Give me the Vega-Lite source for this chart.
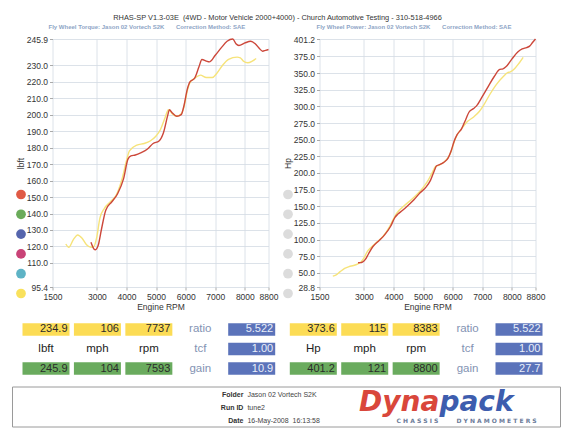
{
  "$schema": "https://vega.github.io/schema/vega-lite/v6.json",
  "background": "white",
  "padding": {"left": 11.5, "top": 13, "right": 0, "bottom": 0},
  "title": {"text": "RHAS-SP V1.3-03E\u00a0 (4WD - Motor Vehicle 2000+4000) - Church Automotive Testing - 310-518-4966", "fontSize": 7.4, "fontWeight": "normal", "color": "#333333", "anchor": "middle", "dx": -9, "offset": 3},
  "config": {
    "font": "Liberation Sans",
    "view": {"stroke": null},
    "axis": {"labelFontSize": 8.5, "labelColor": "#333333", "titleFontSize": 8.5, "titleFontWeight": "normal", "titleColor": "#333333", "domain": false, "tickColor": "#aaaaaa", "tickSize": 3, "labelPadding": 2, "gridColor": "#d3dae3", "gridWidth": 0.8, "labelOverlap": false, "labelSeparation": 0},
    "axisX": {"titlePadding": 2, "labelFlush": false},
    "axisY": {"titlePadding": 1}
  },
  "datasets": {
    "runs": [
      {"run": "tune1", "rpm": 1950, "lbft": 121.5, "hp": 45.1},
      {"run": "tune1", "rpm": 2050, "lbft": 119.5, "hp": 46.6},
      {"run": "tune1", "rpm": 2200, "lbft": 124.0, "hp": 51.9},
      {"run": "tune1", "rpm": 2350, "lbft": 127.0, "hp": 56.8},
      {"run": "tune1", "rpm": 2500, "lbft": 125.0, "hp": 59.5},
      {"run": "tune1", "rpm": 2650, "lbft": 121.0, "hp": 61.1},
      {"run": "tune1", "rpm": 2800, "lbft": 119.5, "hp": 63.7},
      {"run": "tune1", "rpm": 2900, "lbft": 120.0, "hp": 66.3},
      {"run": "tune1", "rpm": 3000, "lbft": 126.0, "hp": 72.0},
      {"run": "tune1", "rpm": 3100, "lbft": 137.0, "hp": 80.9},
      {"run": "tune1", "rpm": 3250, "lbft": 143.0, "hp": 88.5},
      {"run": "tune1", "rpm": 3450, "lbft": 147.0, "hp": 96.6},
      {"run": "tune1", "rpm": 3650, "lbft": 151.0, "hp": 104.9},
      {"run": "tune1", "rpm": 3850, "lbft": 161.0, "hp": 118.0},
      {"run": "tune1", "rpm": 4000, "lbft": 172.0, "hp": 131.0},
      {"run": "tune1", "rpm": 4100, "lbft": 178.0, "hp": 139.0},
      {"run": "tune1", "rpm": 4350, "lbft": 181.5, "hp": 150.3},
      {"run": "tune1", "rpm": 4600, "lbft": 182.5, "hp": 159.8},
      {"run": "tune1", "rpm": 4800, "lbft": 184.0, "hp": 168.2},
      {"run": "tune1", "rpm": 5000, "lbft": 187.0, "hp": 178.0},
      {"run": "tune1", "rpm": 5150, "lbft": 191.0, "hp": 187.3},
      {"run": "tune1", "rpm": 5300, "lbft": 198.0, "hp": 199.8},
      {"run": "tune1", "rpm": 5420, "lbft": 203.0, "hp": 209.5},
      {"run": "tune1", "rpm": 5550, "lbft": 200.5, "hp": 211.9},
      {"run": "tune1", "rpm": 5700, "lbft": 199.0, "hp": 216.0},
      {"run": "tune1", "rpm": 5850, "lbft": 200.5, "hp": 223.3},
      {"run": "tune1", "rpm": 5950, "lbft": 205.0, "hp": 232.2},
      {"run": "tune1", "rpm": 6050, "lbft": 214.0, "hp": 246.5},
      {"run": "tune1", "rpm": 6150, "lbft": 219.5, "hp": 257.0},
      {"run": "tune1", "rpm": 6300, "lbft": 222.0, "hp": 266.3},
      {"run": "tune1", "rpm": 6500, "lbft": 224.0, "hp": 277.2},
      {"run": "tune1", "rpm": 6700, "lbft": 222.5, "hp": 283.8},
      {"run": "tune1", "rpm": 6900, "lbft": 222.5, "hp": 292.3},
      {"run": "tune1", "rpm": 7050, "lbft": 225.0, "hp": 302.0},
      {"run": "tune1", "rpm": 7250, "lbft": 230.0, "hp": 317.5},
      {"run": "tune1", "rpm": 7450, "lbft": 233.5, "hp": 331.2},
      {"run": "tune1", "rpm": 7737, "lbft": 234.9, "hp": 346.0},
      {"run": "tune1", "rpm": 7850, "lbft": 234.5, "hp": 350.5},
      {"run": "tune1", "rpm": 7950, "lbft": 232.5, "hp": 351.9},
      {"run": "tune1", "rpm": 8100, "lbft": 231.5, "hp": 357.0},
      {"run": "tune1", "rpm": 8250, "lbft": 232.5, "hp": 365.2},
      {"run": "tune1", "rpm": 8383, "lbft": 234.1, "hp": 373.6},
      {"run": "tune2", "rpm": 2800, "lbft": 122.5, "hp": 65.3},
      {"run": "tune2", "rpm": 2900, "lbft": 118.5, "hp": 65.4},
      {"run": "tune2", "rpm": 2950, "lbft": 118.0, "hp": 66.3},
      {"run": "tune2", "rpm": 3050, "lbft": 121.0, "hp": 70.3},
      {"run": "tune2", "rpm": 3150, "lbft": 130.0, "hp": 78.0},
      {"run": "tune2", "rpm": 3300, "lbft": 142.0, "hp": 89.2},
      {"run": "tune2", "rpm": 3500, "lbft": 147.0, "hp": 98.0},
      {"run": "tune2", "rpm": 3700, "lbft": 152.0, "hp": 107.1},
      {"run": "tune2", "rpm": 3900, "lbft": 161.0, "hp": 119.6},
      {"run": "tune2", "rpm": 4050, "lbft": 173.0, "hp": 133.4},
      {"run": "tune2", "rpm": 4150, "lbft": 175.0, "hp": 138.3},
      {"run": "tune2", "rpm": 4300, "lbft": 175.5, "hp": 143.7},
      {"run": "tune2", "rpm": 4500, "lbft": 177.0, "hp": 151.7},
      {"run": "tune2", "rpm": 4700, "lbft": 179.0, "hp": 160.2},
      {"run": "tune2", "rpm": 4900, "lbft": 182.5, "hp": 170.3},
      {"run": "tune2", "rpm": 5100, "lbft": 184.0, "hp": 178.7},
      {"run": "tune2", "rpm": 5250, "lbft": 189.0, "hp": 188.9},
      {"run": "tune2", "rpm": 5400, "lbft": 200.0, "hp": 205.6},
      {"run": "tune2", "rpm": 5450, "lbft": 203.0, "hp": 210.6},
      {"run": "tune2", "rpm": 5550, "lbft": 201.0, "hp": 212.4},
      {"run": "tune2", "rpm": 5700, "lbft": 199.0, "hp": 216.0},
      {"run": "tune2", "rpm": 5850, "lbft": 200.0, "hp": 222.8},
      {"run": "tune2", "rpm": 5950, "lbft": 206.0, "hp": 233.4},
      {"run": "tune2", "rpm": 6050, "lbft": 215.0, "hp": 247.7},
      {"run": "tune2", "rpm": 6150, "lbft": 220.0, "hp": 257.6},
      {"run": "tune2", "rpm": 6300, "lbft": 222.0, "hp": 266.3},
      {"run": "tune2", "rpm": 6450, "lbft": 229.0, "hp": 281.2},
      {"run": "tune2", "rpm": 6550, "lbft": 233.5, "hp": 291.2},
      {"run": "tune2", "rpm": 6700, "lbft": 232.5, "hp": 296.6},
      {"run": "tune2", "rpm": 6800, "lbft": 232.0, "hp": 300.4},
      {"run": "tune2", "rpm": 7000, "lbft": 236.0, "hp": 314.5},
      {"run": "tune2", "rpm": 7200, "lbft": 240.5, "hp": 329.7},
      {"run": "tune2", "rpm": 7400, "lbft": 244.5, "hp": 344.5},
      {"run": "tune2", "rpm": 7593, "lbft": 245.9, "hp": 355.5},
      {"run": "tune2", "rpm": 7700, "lbft": 243.0, "hp": 356.3},
      {"run": "tune2", "rpm": 7800, "lbft": 242.0, "hp": 359.4},
      {"run": "tune2", "rpm": 8000, "lbft": 243.5, "hp": 370.9},
      {"run": "tune2", "rpm": 8200, "lbft": 244.5, "hp": 381.7},
      {"run": "tune2", "rpm": 8350, "lbft": 243.0, "hp": 386.3},
      {"run": "tune2", "rpm": 8500, "lbft": 240.0, "hp": 388.4},
      {"run": "tune2", "rpm": 8600, "lbft": 238.5, "hp": 390.5},
      {"run": "tune2", "rpm": 8700, "lbft": 239.0, "hp": 395.9},
      {"run": "tune2", "rpm": 8800, "lbft": 239.5, "hp": 401.2}
    ],
    "slots": [{"slot": "1"}, {"slot": "2"}, {"slot": "3"}, {"slot": "4"}, {"slot": "5"}, {"slot": "6"}],
    "table": [
      {"half": "T", "row": "peak1", "col": "main", "text": "234.9", "box": "yellow"},
      {"half": "T", "row": "peak1", "col": "mph", "text": "106", "box": "yellow"},
      {"half": "T", "row": "peak1", "col": "rpm", "text": "7737", "box": "yellow"},
      {"half": "T", "row": "peak1", "col": "key", "text": "ratio", "box": "none"},
      {"half": "T", "row": "peak1", "col": "factor", "text": "5.522", "box": "blue"},
      {"half": "T", "row": "units", "col": "main", "text": "lbft", "box": "none"},
      {"half": "T", "row": "units", "col": "mph", "text": "mph", "box": "none"},
      {"half": "T", "row": "units", "col": "rpm", "text": "rpm", "box": "none"},
      {"half": "T", "row": "units", "col": "key", "text": "tcf", "box": "none"},
      {"half": "T", "row": "units", "col": "factor", "text": "1.00", "box": "blue"},
      {"half": "T", "row": "peak2", "col": "main", "text": "245.9", "box": "green"},
      {"half": "T", "row": "peak2", "col": "mph", "text": "104", "box": "green"},
      {"half": "T", "row": "peak2", "col": "rpm", "text": "7593", "box": "green"},
      {"half": "T", "row": "peak2", "col": "key", "text": "gain", "box": "none"},
      {"half": "T", "row": "peak2", "col": "factor", "text": "10.9", "box": "blue"},
      {"half": "P", "row": "peak1", "col": "main", "text": "373.6", "box": "yellow"},
      {"half": "P", "row": "peak1", "col": "mph", "text": "115", "box": "yellow"},
      {"half": "P", "row": "peak1", "col": "rpm", "text": "8383", "box": "yellow"},
      {"half": "P", "row": "peak1", "col": "key", "text": "ratio", "box": "none"},
      {"half": "P", "row": "peak1", "col": "factor", "text": "5.522", "box": "blue"},
      {"half": "P", "row": "units", "col": "main", "text": "Hp", "box": "none"},
      {"half": "P", "row": "units", "col": "mph", "text": "mph", "box": "none"},
      {"half": "P", "row": "units", "col": "rpm", "text": "rpm", "box": "none"},
      {"half": "P", "row": "units", "col": "key", "text": "tcf", "box": "none"},
      {"half": "P", "row": "units", "col": "factor", "text": "1.00", "box": "blue"},
      {"half": "P", "row": "peak2", "col": "main", "text": "401.2", "box": "green"},
      {"half": "P", "row": "peak2", "col": "mph", "text": "121", "box": "green"},
      {"half": "P", "row": "peak2", "col": "rpm", "text": "8800", "box": "green"},
      {"half": "P", "row": "peak2", "col": "key", "text": "gain", "box": "none"},
      {"half": "P", "row": "peak2", "col": "factor", "text": "27.7", "box": "blue"}
    ],
    "footer": [
      {"zone": "info", "row": "Folder", "role": "label", "text": "Folder"},
      {"zone": "info", "row": "Folder", "role": "value", "text": "Jason 02 Vortech S2K"},
      {"zone": "info", "row": "Run ID", "role": "label", "text": "Run ID"},
      {"zone": "info", "row": "Run ID", "role": "value", "text": "tune2"},
      {"zone": "info", "row": "Date", "role": "label", "text": "Date"},
      {"zone": "info", "row": "Date", "role": "value", "text": "16-May-2008\u00a0 16:13:58"},
      {"zone": "logo", "row": "Run ID", "role": "brand1", "text": "Dyna"},
      {"zone": "logo", "row": "Run ID", "role": "brand2", "text": "pack"},
      {"zone": "logo", "row": "Date", "role": "tag1", "text": "C H A S S I S"},
      {"zone": "logo", "row": "Date", "role": "tag2", "text": "D Y N A M O M E T E R S"}
    ],
    "frame": [{"part": "frame"}]
  },
  "spacing": 8,
  "resolve": {"scale": {"fill": "independent", "stroke": "independent"}, "legend": {"fill": "independent", "stroke": "independent"}},
  "vconcat": [
    {
      "spacing": 4,
      "resolve": {"scale": {"fill": "independent", "stroke": "independent"}, "legend": {"fill": "independent", "stroke": "independent"}},
      "hconcat": [
        {
          "width": 216, "height": 248,
          "title": {"text": "Fly Wheel Torque: Jason 02 Vortech S2K\u00a0\u00a0\u00a0\u00a0\u00a0\u00a0 Correction Method: SAE", "fontSize": 6, "fontWeight": "bold", "color": "#8ea5c6", "anchor": "start", "frame": "group", "dx": -4, "offset": 5},
          "layer": [
            {
              "data": {"name": "runs"},
              "mark": {"type": "line", "strokeWidth": 1.4, "interpolate": "monotone"},
              "encoding": {
                "x": {"field": "rpm", "type": "quantitative", "scale": {"domain": [1500, 8800], "nice": false, "zero": false}, "axis": {"title": "Engine RPM", "values": [1500, 3000, 4000, 5000, 6000, 7000, 8000, 8800], "tickCount": 40, "format": "d", "labelOverlap": false}},
                "y": {"field": "lbft", "type": "quantitative", "scale": {"domain": [95.4, 245.9], "nice": false, "zero": false}, "axis": {"title": "lbft", "values": [95.4, 110, 120, 130, 140, 150, 160, 170, 180, 190, 200, 210, 220, 230, 245.9], "tickCount": 40, "format": ".1f", "labelOverlap": false}},
                "stroke": {"field": "run", "type": "nominal", "scale": {"domain": ["tune1", "tune2"], "range": ["#f6e37a", "#cc473a"]}, "legend": null}
              }
            },
            {
              "data": {"name": "slots"},
              "mark": {"type": "point", "filled": true, "opacity": 1},
              "encoding": {
                "x": {"field": "rpm", "type": "quantitative"},
                "y": {"field": "lbft", "type": "quantitative"},
                "fill": {"field": "slot", "type": "nominal", "scale": {"domain": ["1", "2", "3", "4", "5", "6"], "range": ["#e05a45", "#6aab5a", "#5565ad", "#c94377", "#5eb3c5", "#f9e15c"]},
                  "legend": {"orient": "none", "legendX": -36.5, "legendY": 150.5, "direction": "vertical", "title": null, "labelExpr": "''", "labelFontSize": 1, "symbolType": "circle", "symbolSize": 95, "symbolStrokeWidth": 0, "symbolOpacity": 1, "rowPadding": 9.8, "padding": 0}}
              }
            }
          ]
        },
        {
          "width": 216, "height": 248,
          "title": {"text": "Fly Wheel Power: Jason 02 Vortech S2K\u00a0\u00a0\u00a0\u00a0\u00a0\u00a0 Correction Method: SAE", "fontSize": 6, "fontWeight": "bold", "color": "#8ea5c6", "anchor": "start", "frame": "group", "dx": -3, "offset": 5},
          "layer": [
            {
              "data": {"name": "runs"},
              "mark": {"type": "line", "strokeWidth": 1.4, "interpolate": "monotone"},
              "encoding": {
                "x": {"field": "rpm", "type": "quantitative", "scale": {"domain": [1500, 8800], "nice": false, "zero": false}, "axis": {"title": "Engine RPM", "values": [1500, 3000, 4000, 5000, 6000, 7000, 8000, 8800], "tickCount": 40, "format": "d", "labelOverlap": false}},
                "y": {"field": "hp", "type": "quantitative", "scale": {"domain": [28.8, 401.2], "nice": false, "zero": false}, "axis": {"title": "Hp", "values": [28.8, 50, 75, 100, 125, 150, 175, 200, 225, 250, 275, 300, 325, 350, 375, 401.2], "tickCount": 40, "format": ".1f", "labelOverlap": false}},
                "stroke": {"field": "run", "type": "nominal", "scale": {"domain": ["tune1", "tune2"], "range": ["#f6e37a", "#cc473a"]}, "legend": null}
              }
            },
            {
              "data": {"name": "slots"},
              "mark": {"type": "point", "filled": true, "opacity": 1},
              "encoding": {
                "x": {"field": "rpm", "type": "quantitative"},
                "y": {"field": "hp", "type": "quantitative"},
                "fill": {"field": "slot", "type": "nominal", "scale": {"domain": ["1", "2", "3", "4", "5", "6"], "range": ["#dcdcdc", "#dcdcdc", "#dcdcdc", "#dcdcdc", "#dcdcdc", "#dcdcdc"]},
                  "legend": {"orient": "none", "legendX": -36.5, "legendY": 150.5, "direction": "vertical", "title": null, "labelExpr": "''", "labelFontSize": 1, "symbolType": "circle", "symbolSize": 95, "symbolStrokeWidth": 0, "symbolOpacity": 1, "rowPadding": 9.8, "padding": 0}}
              }
            }
          ]
        }
      ]
    },
    {
      "spacing": 14.3,
      "hconcat": [
        {
          "width": 222.7, "height": 59,
          "data": {"name": "table"},
          "transform": [{"filter": "datum.half === 'T'"}],
          "encoding": {
            "x": {"field": "col", "type": "ordinal", "scale": {"domain": ["main", "mph", "rpm", "key", "factor"], "range": [-30, 222.7], "paddingInner": 0.086, "paddingOuter": 0}, "axis": null},
            "y": {"field": "row", "type": "ordinal", "scale": {"domain": ["peak1", "units", "peak2"], "paddingInner": 0.359, "paddingOuter": 0.192, "align": 0.567}, "axis": null}
          },
          "layer": [
            {"transform": [{"filter": "datum.box !== 'none'"}], "mark": {"type": "rect"},
             "encoding": {"fill": {"field": "box", "type": "nominal", "scale": {"domain": ["yellow", "green", "blue"], "range": ["#fcdc55", "#6aab5e", "#5b73ba"]}, "legend": null}}},
            {"transform": [{"filter": "datum.box !== 'none'"}], "mark": {"type": "text", "align": "right", "baseline": "middle", "dx": -2, "fontSize": 11},
             "encoding": {"x": {"field": "col", "type": "ordinal", "bandPosition": 1}, "y": {"field": "row", "type": "ordinal", "bandPosition": 0.5}, "text": {"field": "text"}, "color": {"condition": {"test": "datum.box === 'blue'", "value": "#e9eef9"}, "value": "#2b2b2b"}}},
            {"transform": [{"filter": "datum.box === 'none'"}], "mark": {"type": "text", "align": "center", "baseline": "middle", "fontSize": 11.5},
             "encoding": {"x": {"field": "col", "type": "ordinal", "bandPosition": 0.5}, "y": {"field": "row", "type": "ordinal", "bandPosition": 0.5}, "text": {"field": "text"}, "color": {"condition": {"test": "datum.col === 'key'", "value": "#8393b3"}, "value": "#222222"}}}
          ]
        },
        {
          "width": 252.7, "height": 59,
          "data": {"name": "table"},
          "transform": [{"filter": "datum.half === 'P'"}],
          "encoding": {
            "x": {"field": "col", "type": "ordinal", "scale": {"domain": ["main", "mph", "rpm", "key", "factor"], "paddingInner": 0.086, "paddingOuter": 0}, "axis": null},
            "y": {"field": "row", "type": "ordinal", "scale": {"domain": ["peak1", "units", "peak2"], "paddingInner": 0.359, "paddingOuter": 0.192, "align": 0.567}, "axis": null}
          },
          "layer": [
            {"transform": [{"filter": "datum.box !== 'none'"}], "mark": {"type": "rect"},
             "encoding": {"fill": {"field": "box", "type": "nominal", "scale": {"domain": ["yellow", "green", "blue"], "range": ["#fcdc55", "#6aab5e", "#5b73ba"]}, "legend": null}}},
            {"transform": [{"filter": "datum.box !== 'none'"}], "mark": {"type": "text", "align": "right", "baseline": "middle", "dx": -2, "fontSize": 11},
             "encoding": {"x": {"field": "col", "type": "ordinal", "bandPosition": 1}, "y": {"field": "row", "type": "ordinal", "bandPosition": 0.5}, "text": {"field": "text"}, "color": {"condition": {"test": "datum.box === 'blue'", "value": "#e9eef9"}, "value": "#2b2b2b"}}},
            {"transform": [{"filter": "datum.box === 'none'"}], "mark": {"type": "text", "align": "center", "baseline": "middle", "fontSize": 11.5},
             "encoding": {"x": {"field": "col", "type": "ordinal", "bandPosition": 0.5}, "y": {"field": "row", "type": "ordinal", "bandPosition": 0.5}, "text": {"field": "text"}, "color": {"condition": {"test": "datum.col === 'key'", "value": "#8393b3"}, "value": "#222222"}}}
          ]
        }
      ]
    },
    {
      "width": 508, "height": 40,
      "resolve": {"scale": {"x": "independent", "y": "independent"}},
      "layer": [
        {
          "data": {"name": "frame"},
          "mark": {"type": "rect", "fill": null, "fillOpacity": 0, "stroke": "#9a9a9a", "strokeWidth": 1},
          "encoding": {
            "x": {"field": "part", "type": "nominal", "scale": {"type": "band", "domain": ["frame"], "range": [-40, 508], "paddingInner": 0, "paddingOuter": 0}, "axis": null},
            "y": {"field": "part", "type": "nominal", "scale": {"type": "band", "domain": ["frame"], "paddingInner": 0, "paddingOuter": 0}, "axis": null}
          }
        },
        {
          "data": {"name": "footer"},
          "encoding": {
            "x": {"field": "zone", "type": "nominal", "scale": {"type": "point", "domain": ["info", "logo"], "range": [-40, 508], "padding": 0.905, "align": 0.657}, "axis": null},
            "y": {"field": "row", "type": "nominal", "scale": {"type": "point", "domain": ["Folder", "Run ID", "Date"], "padding": 0.538, "align": 0.571}, "axis": null}
          },
          "layer": [
            {"transform": [{"filter": "datum.role === 'label'"}], "mark": {"type": "text", "align": "right", "baseline": "middle", "fontSize": 7, "fontWeight": "bold", "color": "#333333", "dx": -1}, "encoding": {"text": {"field": "text"}}},
            {"transform": [{"filter": "datum.role === 'value'"}], "mark": {"type": "text", "align": "left", "baseline": "middle", "fontSize": 7, "color": "#444444", "dx": 3}, "encoding": {"text": {"field": "text"}}},
            {"transform": [{"filter": "datum.role === 'brand1'"}], "mark": {"type": "text", "align": "right", "baseline": "alphabetic", "dy": 3.5, "font": "DejaVu Sans", "fontSize": 28, "fontWeight": "bold", "fontStyle": "italic", "color": "#d9473b"}, "encoding": {"text": {"field": "text"}}},
            {"transform": [{"filter": "datum.role === 'brand2'"}], "mark": {"type": "text", "align": "left", "baseline": "alphabetic", "dy": 3.5, "font": "DejaVu Sans", "fontSize": 28, "fontWeight": "bold", "fontStyle": "italic", "color": "#3d5dae"}, "encoding": {"text": {"field": "text"}}},
            {"transform": [{"filter": "datum.role === 'tag1'"}], "mark": {"type": "text", "align": "right", "baseline": "middle", "dx": -1, "font": "DejaVu Sans", "fontSize": 6, "fontWeight": "bold", "color": "#6b7b99"}, "encoding": {"text": {"field": "text"}}},
            {"transform": [{"filter": "datum.role === 'tag2'"}], "mark": {"type": "text", "align": "left", "baseline": "middle", "dx": 17, "font": "DejaVu Sans", "fontSize": 6, "fontWeight": "bold", "color": "#6b7b99"}, "encoding": {"text": {"field": "text"}}}
          ]
        }
      ]
    }
  ]
}
